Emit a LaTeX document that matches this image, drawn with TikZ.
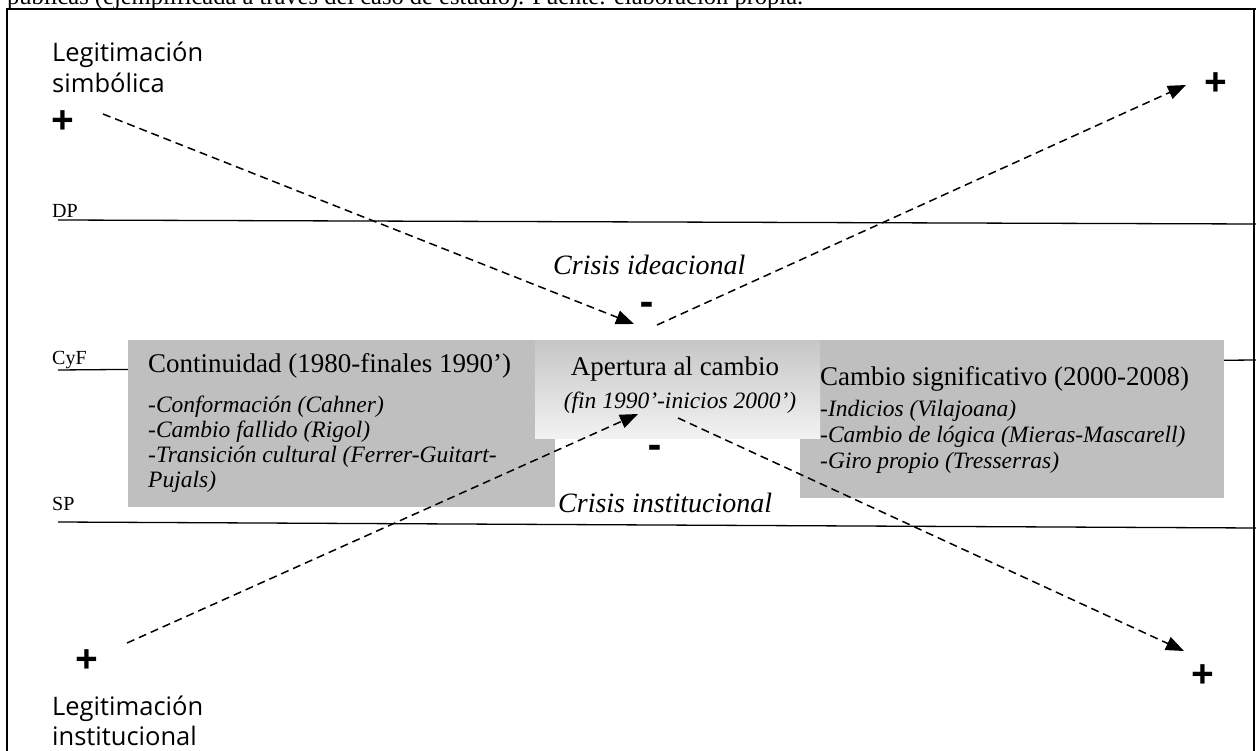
\documentclass[tikz,border=0pt]{standalone}
\usepackage{fontspec}
\setmainfont{Liberation Serif}
\newfontfamily\labsans{Open Sans}
\usetikzlibrary{arrows.meta}
\definecolor{boxgray}{RGB}{191,191,191}
\definecolor{shadetop}{RGB}{198,198,198}
\definecolor{shadebot}{RGB}{242,242,242}
\begin{document}
\begin{tikzpicture}[x=1pt,y=-1pt,
  lbl/.style={inner sep=0pt, anchor=base west},
  hdr/.style={lbl, font=\fontsize{27}{30}\selectfont},
  itm/.style={lbl, font=\itshape\fontsize{23.5}{25}\selectfont},
  crisis/.style={lbl, font=\itshape\fontsize{28}{30}\selectfont},
  lvl/.style={lbl, font=\fontsize{20}{22}\selectfont},
  sanslbl/.style={lbl, font=\labsans\fontsize{25.5}{31}\selectfont},
  sign/.style={inner sep=0pt, font=\labsans\bfseries\fontsize{40}{40}\selectfont},
  levelline/.style={line width=1.3pt},
  frameline/.style={line width=1.8pt},
  box/.style={inner sep=0pt, anchor=north west, fill=boxgray},
  conn/.style={line width=1.5pt, dash pattern=on 8pt off 5pt, -{Triangle[length=18pt,width=14pt]}}
]
\useasboundingbox (0,0) rectangle (1256,751);
\clip (0,0) rectangle (1256,751);

% caption (cut off at the top)
\node[lbl, font=\fontsize{24.5}{26}\selectfont] (caption) at (7,5) {públicas (ejemplificada a través del caso de estudio). Fuente: elaboración propia.};

% frame
\coordinate (fbl) at (7,752);
\coordinate (ftl) at (7,9);
\coordinate (ftr) at (1254,9);
\coordinate (fbr) at (1254,752);
\draw[frameline] (fbl) -- (ftl) -- (1257,9);
\draw[frameline] (ftr) -- (fbr);

% level lines
\coordinate (dpL) at (58,220);  \coordinate (dpR) at (1256,224);
\coordinate (cyfL) at (58,370); \coordinate (cyfR) at (1256,360);
\coordinate (spL) at (58,522);  \coordinate (spR) at (1256,528);
\draw[levelline] (dpL) -- (dpR);
\draw[levelline] (cyfL) -- (cyfR);
\draw[levelline] (spL) -- (spR);
\node[lvl] (dp) at (52,218) {DP};
\node[lvl] (cyf) at (52,364) {CyF};
\node[lvl] (sp) at (52,510) {SP};

% boxes
\node[box, minimum width=427pt, minimum height=167pt] (leftbox) at (128,340) {};
\node[box, minimum width=424pt, minimum height=158pt] (rightbox) at (800,340) {};
\node[box, minimum width=285pt, minimum height=98pt, fill=none, top color=shadetop, bottom color=shadebot] (midbox) at (535,340) {};

% box texts
\node[hdr] (conth) at (148,373) {Continuidad (1980-finales 1990’)};
\node[itm] (cont1) at (148,412) {-Conformación (Cahner)};
\node[itm] (cont2) at (148,437) {-Cambio fallido (Rigol)};
\node[itm] (cont3) at (148,462) {-Transición cultural (Ferrer-Guitart-};
\node[itm] (cont4) at (148,487) {Pujals)};

\node[hdr, anchor=base] (aperh) at (675,375) {Apertura al cambio};
\node[itm, anchor=base] (aper1) at (680,408) {(fin 1990’-inicios 2000’)};

\node[hdr] (cambh) at (820,385) {Cambio significativo (2000-2008)};
\node[itm] (camb1) at (820,416) {-Indicios (Vilajoana)};
\node[itm] (camb2) at (820,442) {-Cambio de lógica (Mieras-Mascarell)};
\node[itm] (camb3) at (820,468) {-Giro propio (Tresserras)};

% crisis labels and signs
\node[crisis] (cid) at (553,275) {Crisis ideacional};
\node[crisis] (cin) at (558,512) {Crisis institucional};
\node[sign] (minusT) at (647,309) {-};
\node[sign] (minusB) at (655,452) {-};
\node[sign] (plusTL) at (63,123) {+};
\node[sign] (plusTR) at (1216,85) {+};
\node[sign] (plusBL) at (87,662) {+};
\node[sign] (plusBR) at (1203,677) {+};

% legitimation labels
\node[sanslbl] (ls1) at (52,62) {Legitimación};
\node[sanslbl] (ls2) at (52,93) {simbólica};
\node[sanslbl] (li1) at (52,715) {Legitimación};
\node[sanslbl] (li2) at (52,745) {institucional};

% connectors
\coordinate (a1s) at (103,114); \coordinate (a1e) at (634,324);
\coordinate (a2s) at (657,325); \coordinate (a2e) at (1186,85);
\coordinate (a3s) at (127,643); \coordinate (a3e) at (638,414);
\coordinate (a4s) at (678,418); \coordinate (a4e) at (1184,651);
\draw[conn] (a1s) -- (a1e);
\draw[conn] (a2s) -- (a2e);
\draw[conn] (a3s) -- (a3e);
\draw[conn] (a4s) -- (a4e);
\end{tikzpicture}
\end{document}
